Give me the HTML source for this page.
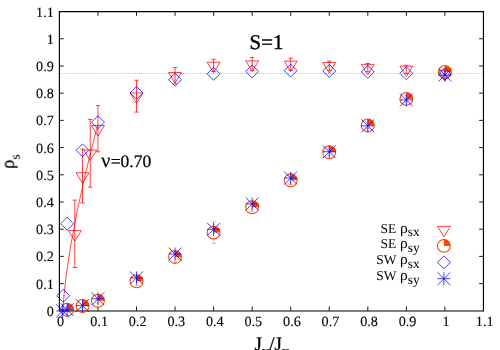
<!DOCTYPE html>
<html><head><meta charset="utf-8"><title>plot</title>
<style>
html,body{margin:0;padding:0;background:#fff;}
body{width:500px;height:350px;overflow:hidden;position:relative;font-family:"Liberation Serif",serif;}
</style></head><body>
<svg width="500" height="350" viewBox="0 0 500 350" style="position:absolute;left:0;top:0;display:block">
<rect x="0" y="0" width="500" height="350" fill="#ffffff"/>
<line x1="59.4" y1="73.39" x2="483.45" y2="73.39" stroke="#000" stroke-width="0.7" stroke-dasharray="0.7 1.4" opacity="0.55"/>
<g stroke="#000" stroke-width="1.15" fill="none" stroke-linecap="butt">
<path d="M59.4,311.53000000000003 L59.4,11.55 L483.45,11.55 L483.45,311.53000000000003 M58.85,310.98 L484.0,310.98"/>
</g>
<g stroke="#000" stroke-width="0.9" fill="none">
<line x1="97.95" y1="310.8" x2="97.95" y2="306.5"/>
<line x1="97.95" y1="11.55" x2="97.95" y2="15.850000000000001"/>
<line x1="59.4" y1="283.60" x2="63.699999999999996" y2="283.60"/>
<line x1="483.45" y1="283.60" x2="479.15" y2="283.60"/>
<line x1="136.50" y1="310.8" x2="136.50" y2="306.5"/>
<line x1="136.50" y1="11.55" x2="136.50" y2="15.850000000000001"/>
<line x1="59.4" y1="256.39" x2="63.699999999999996" y2="256.39"/>
<line x1="483.45" y1="256.39" x2="479.15" y2="256.39"/>
<line x1="175.05" y1="310.8" x2="175.05" y2="306.5"/>
<line x1="175.05" y1="11.55" x2="175.05" y2="15.850000000000001"/>
<line x1="59.4" y1="229.19" x2="63.699999999999996" y2="229.19"/>
<line x1="483.45" y1="229.19" x2="479.15" y2="229.19"/>
<line x1="213.60" y1="310.8" x2="213.60" y2="306.5"/>
<line x1="213.60" y1="11.55" x2="213.60" y2="15.850000000000001"/>
<line x1="59.4" y1="201.98" x2="63.699999999999996" y2="201.98"/>
<line x1="483.45" y1="201.98" x2="479.15" y2="201.98"/>
<line x1="252.15" y1="310.8" x2="252.15" y2="306.5"/>
<line x1="252.15" y1="11.55" x2="252.15" y2="15.850000000000001"/>
<line x1="59.4" y1="174.78" x2="63.699999999999996" y2="174.78"/>
<line x1="483.45" y1="174.78" x2="479.15" y2="174.78"/>
<line x1="290.70" y1="310.8" x2="290.70" y2="306.5"/>
<line x1="290.70" y1="11.55" x2="290.70" y2="15.850000000000001"/>
<line x1="59.4" y1="147.57" x2="63.699999999999996" y2="147.57"/>
<line x1="483.45" y1="147.57" x2="479.15" y2="147.57"/>
<line x1="329.25" y1="310.8" x2="329.25" y2="306.5"/>
<line x1="329.25" y1="11.55" x2="329.25" y2="15.850000000000001"/>
<line x1="59.4" y1="120.37" x2="63.699999999999996" y2="120.37"/>
<line x1="483.45" y1="120.37" x2="479.15" y2="120.37"/>
<line x1="367.80" y1="310.8" x2="367.80" y2="306.5"/>
<line x1="367.80" y1="11.55" x2="367.80" y2="15.850000000000001"/>
<line x1="59.4" y1="93.16" x2="63.699999999999996" y2="93.16"/>
<line x1="483.45" y1="93.16" x2="479.15" y2="93.16"/>
<line x1="406.35" y1="310.8" x2="406.35" y2="306.5"/>
<line x1="406.35" y1="11.55" x2="406.35" y2="15.850000000000001"/>
<line x1="59.4" y1="65.96" x2="63.699999999999996" y2="65.96"/>
<line x1="483.45" y1="65.96" x2="479.15" y2="65.96"/>
<line x1="444.90" y1="310.8" x2="444.90" y2="306.5"/>
<line x1="444.90" y1="11.55" x2="444.90" y2="15.850000000000001"/>
<line x1="59.4" y1="38.75" x2="63.699999999999996" y2="38.75"/>
<line x1="483.45" y1="38.75" x2="479.15" y2="38.75"/>
</g>
<g style="will-change:transform;text-rendering:geometricPrecision">
<g font-family="Liberation Serif, serif" font-size="14.2" fill="#000" stroke="#000" stroke-width="0.12">
<text x="53.80" y="315.80" text-anchor="end">0</text>
<text x="60.60" y="326" text-anchor="middle">0</text>
<text x="53.80" y="288.60" text-anchor="end">0.1</text>
<text x="99.15" y="326" text-anchor="middle">0.1</text>
<text x="53.80" y="261.39" text-anchor="end">0.2</text>
<text x="137.70" y="326" text-anchor="middle">0.2</text>
<text x="53.80" y="234.19" text-anchor="end">0.3</text>
<text x="176.25" y="326" text-anchor="middle">0.3</text>
<text x="53.80" y="206.98" text-anchor="end">0.4</text>
<text x="214.80" y="326" text-anchor="middle">0.4</text>
<text x="53.80" y="179.78" text-anchor="end">0.5</text>
<text x="253.35" y="326" text-anchor="middle">0.5</text>
<text x="53.80" y="152.57" text-anchor="end">0.6</text>
<text x="291.90" y="326" text-anchor="middle">0.6</text>
<text x="53.80" y="125.37" text-anchor="end">0.7</text>
<text x="330.45" y="326" text-anchor="middle">0.7</text>
<text x="53.80" y="98.16" text-anchor="end">0.8</text>
<text x="369.00" y="326" text-anchor="middle">0.8</text>
<text x="53.80" y="70.96" text-anchor="end">0.9</text>
<text x="407.55" y="326" text-anchor="middle">0.9</text>
<text x="53.80" y="43.75" text-anchor="end">1</text>
<text x="446.10" y="326" text-anchor="middle">1</text>
<text x="53.80" y="16.55" text-anchor="end">1.1</text>
<text x="484.65" y="326" text-anchor="middle">1.1</text>
</g>
</g>
<g>
<path d="M74.82,267.54 L74.82,200.08 M72.62,267.54 L77.02,267.54 M72.62,200.08 L77.02,200.08" fill="none" stroke="#ff0000" stroke-width="0.75"/>
<path d="M74.82,241.04 L68.37,230.59 L81.27,230.59 Z" fill="none" stroke="#ff0000" stroke-width="0.75" stroke-linejoin="miter"/><circle cx="74.82" cy="233.81" r="0.3" fill="#ff0000"/>
<path d="M82.53,202.91 L82.53,149.04 M80.33,202.91 L84.73,202.91 M80.33,149.04 L84.73,149.04" fill="none" stroke="#ff0000" stroke-width="0.75"/>
<path d="M82.53,183.20 L76.08,172.75 L88.98,172.75 Z" fill="none" stroke="#ff0000" stroke-width="0.75" stroke-linejoin="miter"/><circle cx="82.53" cy="175.97" r="0.3" fill="#ff0000"/>
<path d="M90.24,187.16 L90.24,119.42 M88.04,187.16 L92.44,187.16 M88.04,119.42 L92.44,119.42" fill="none" stroke="#ff0000" stroke-width="0.75"/>
<path d="M90.24,160.51 L83.79,150.06 L96.69,150.06 Z" fill="none" stroke="#ff0000" stroke-width="0.75" stroke-linejoin="miter"/><circle cx="90.24" cy="153.29" r="0.3" fill="#ff0000"/>
<path d="M97.95,151.84 L97.95,105.60 M95.75,151.84 L100.15,151.84 M95.75,105.60 L100.15,105.60" fill="none" stroke="#ff0000" stroke-width="0.75"/>
<path d="M97.95,135.94 L91.50,125.49 L104.40,125.49 Z" fill="none" stroke="#ff0000" stroke-width="0.75" stroke-linejoin="miter"/><circle cx="97.95" cy="128.72" r="0.3" fill="#ff0000"/>
<path d="M136.50,112.07 L136.50,80.24 M134.30,112.07 L138.70,112.07 M134.30,80.24 L138.70,80.24" fill="none" stroke="#ff0000" stroke-width="0.75"/>
<path d="M136.50,103.38 L130.05,92.93 L142.95,92.93 Z" fill="none" stroke="#ff0000" stroke-width="0.75" stroke-linejoin="miter"/><circle cx="136.50" cy="96.16" r="0.3" fill="#ff0000"/>
<path d="M175.05,83.91 L175.05,67.59 M172.85,83.91 L177.25,83.91 M172.85,67.59 L177.25,67.59" fill="none" stroke="#ff0000" stroke-width="0.75"/>
<path d="M175.05,82.98 L168.60,72.53 L181.50,72.53 Z" fill="none" stroke="#ff0000" stroke-width="0.75" stroke-linejoin="miter"/><circle cx="175.05" cy="75.75" r="0.3" fill="#ff0000"/>
<path d="M213.60,71.54 L213.60,59.29 M211.40,71.54 L215.80,71.54 M211.40,59.29 L215.80,59.29" fill="none" stroke="#ff0000" stroke-width="0.75"/>
<path d="M213.60,72.64 L207.15,62.19 L220.05,62.19 Z" fill="none" stroke="#ff0000" stroke-width="0.75" stroke-linejoin="miter"/><circle cx="213.60" cy="65.42" r="0.3" fill="#ff0000"/>
<path d="M252.15,70.58 L252.15,57.53 M249.95,70.58 L254.35,70.58 M249.95,57.53 L254.35,57.53" fill="none" stroke="#ff0000" stroke-width="0.75"/>
<path d="M252.15,71.28 L245.70,60.83 L258.60,60.83 Z" fill="none" stroke="#ff0000" stroke-width="0.75" stroke-linejoin="miter"/><circle cx="252.15" cy="64.05" r="0.3" fill="#ff0000"/>
<path d="M290.70,70.31 L290.70,58.34 M288.50,70.31 L292.90,70.31 M288.50,58.34 L292.90,58.34" fill="none" stroke="#ff0000" stroke-width="0.75"/>
<path d="M290.70,71.55 L284.25,61.10 L297.15,61.10 Z" fill="none" stroke="#ff0000" stroke-width="0.75" stroke-linejoin="miter"/><circle cx="290.70" cy="64.33" r="0.3" fill="#ff0000"/>
<path d="M329.25,70.39 L329.25,61.14 M327.05,70.39 L331.45,70.39 M327.05,61.14 L331.45,61.14" fill="none" stroke="#ff0000" stroke-width="0.75"/>
<path d="M329.25,72.99 L322.80,62.54 L335.70,62.54 Z" fill="none" stroke="#ff0000" stroke-width="0.75" stroke-linejoin="miter"/><circle cx="329.25" cy="65.77" r="0.3" fill="#ff0000"/>
<path d="M367.80,71.67 L367.80,63.51 M365.60,71.67 L370.00,71.67 M365.60,63.51 L370.00,63.51" fill="none" stroke="#ff0000" stroke-width="0.75"/>
<path d="M367.80,74.82 L361.35,64.37 L374.25,64.37 Z" fill="none" stroke="#ff0000" stroke-width="0.75" stroke-linejoin="miter"/><circle cx="367.80" cy="67.59" r="0.3" fill="#ff0000"/>
<path d="M406.35,73.44 L406.35,65.28 M404.15,73.44 L408.55,73.44 M404.15,65.28 L408.55,65.28" fill="none" stroke="#ff0000" stroke-width="0.75"/>
<path d="M406.35,76.58 L399.90,66.13 L412.80,66.13 Z" fill="none" stroke="#ff0000" stroke-width="0.75" stroke-linejoin="miter"/><circle cx="406.35" cy="69.36" r="0.3" fill="#ff0000"/>
<path d="M444.90,75.54 L444.90,71.18 M442.70,75.54 L447.10,75.54 M442.70,71.18 L447.10,71.18" fill="none" stroke="#ff0000" stroke-width="0.75"/>
<path d="M444.90,80.58 L438.45,70.13 L451.35,70.13 Z" fill="none" stroke="#ff0000" stroke-width="0.75" stroke-linejoin="miter"/><circle cx="444.90" cy="73.36" r="0.3" fill="#ff0000"/>
</g>
<polyline points="63.02,310.80 63.61,300.19 64.19,293.56 64.77,287.90 65.35,282.80 65.93,278.06 66.52,273.61 67.10,269.37 67.68,265.31 68.26,261.40 68.84,257.62 69.43,253.95 70.01,250.38 70.59,246.90 71.17,243.49 71.76,240.16 72.34,236.90 72.92,233.69 73.50,230.55 74.08,227.45 74.67,224.40 75.25,221.40 75.83,218.44 76.41,215.52 76.99,212.64 77.58,209.80 78.16,206.99 78.74,204.21 79.32,201.46 79.90,198.74 80.49,196.05 81.07,193.38 81.65,190.75 82.23,188.13 82.82,185.54 83.40,182.97 83.98,180.43 84.56,177.90 85.14,175.40 85.73,172.91 86.31,170.45 86.89,168.00 87.47,165.57 88.05,163.16 88.64,160.77 89.22,158.39 89.80,156.02 90.38,153.68 90.96,151.34 91.55,149.03 92.13,146.72 92.71,144.43 93.29,142.15 93.88,139.89 94.46,137.64 95.04,135.40 95.62,133.17 96.20,130.96 96.79,128.76 97.37,126.57 97.95,124.39" fill="none" stroke="#ff0000" stroke-width="0.75"/>
<g>
<path d="M67.11,310.61 L67.11,308.98 M64.91,310.61 L69.31,310.61 M64.91,308.98 L69.31,308.98" fill="none" stroke="#ff4500" stroke-width="0.4"/>
<path d="M67.11,309.79 L73.56,309.79 A6.45,6.45 0 0 0 67.11,303.34 Z" fill="#ff4500" stroke="none"/><circle cx="67.11" cy="309.79" r="6.45" fill="none" stroke="#ff4500" stroke-width="1.05"/>
<path d="M82.53,307.62 L82.53,304.35 M80.33,307.62 L84.73,307.62 M80.33,304.35 L84.73,304.35" fill="none" stroke="#ff4500" stroke-width="0.4"/>
<path d="M82.53,305.98 L88.98,305.98 A6.45,6.45 0 0 0 82.53,299.53 Z" fill="#ff4500" stroke="none"/><circle cx="82.53" cy="305.98" r="6.45" fill="none" stroke="#ff4500" stroke-width="1.05"/>
<path d="M97.95,302.97 L97.95,298.61 M95.75,302.97 L100.15,302.97 M95.75,298.61 L100.15,298.61" fill="none" stroke="#ff4500" stroke-width="0.4"/>
<path d="M97.95,300.79 L104.40,300.79 A6.45,6.45 0 0 0 97.95,294.34 Z" fill="#ff4500" stroke="none"/><circle cx="97.95" cy="300.79" r="6.45" fill="none" stroke="#ff4500" stroke-width="1.05"/>
<path d="M136.50,285.64 L136.50,276.93 M134.30,285.64 L138.70,285.64 M134.30,276.93 L138.70,276.93" fill="none" stroke="#ff4500" stroke-width="0.4"/>
<path d="M136.50,281.28 L142.95,281.28 A6.45,6.45 0 0 0 136.50,274.83 Z" fill="#ff4500" stroke="none"/><circle cx="136.50" cy="281.28" r="6.45" fill="none" stroke="#ff4500" stroke-width="1.05"/>
<path d="M175.05,262.38 L175.05,251.49 M172.85,262.38 L177.25,262.38 M172.85,251.49 L177.25,251.49" fill="none" stroke="#ff4500" stroke-width="0.4"/>
<path d="M175.05,256.94 L181.50,256.94 A6.45,6.45 0 0 0 175.05,250.49 Z" fill="#ff4500" stroke="none"/><circle cx="175.05" cy="256.94" r="6.45" fill="none" stroke="#ff4500" stroke-width="1.05"/>
<path d="M213.60,243.50 L213.60,221.73 M211.40,243.50 L215.80,243.50 M211.40,221.73 L215.80,221.73" fill="none" stroke="#ff4500" stroke-width="0.4"/>
<path d="M213.60,232.61 L220.05,232.61 A6.45,6.45 0 0 0 213.60,226.16 Z" fill="#ff4500" stroke="none"/><circle cx="213.60" cy="232.61" r="6.45" fill="none" stroke="#ff4500" stroke-width="1.05"/>
<path d="M252.15,211.29 L252.15,203.12 M249.95,211.29 L254.35,211.29 M249.95,203.12 L254.35,203.12" fill="none" stroke="#ff4500" stroke-width="0.4"/>
<path d="M252.15,207.21 L258.60,207.21 A6.45,6.45 0 0 0 252.15,200.76 Z" fill="#ff4500" stroke="none"/><circle cx="252.15" cy="207.21" r="6.45" fill="none" stroke="#ff4500" stroke-width="1.05"/>
<path d="M290.70,184.41 L290.70,176.25 M288.50,184.41 L292.90,184.41 M288.50,176.25 L292.90,176.25" fill="none" stroke="#ff4500" stroke-width="0.4"/>
<path d="M290.70,180.33 L297.15,180.33 A6.45,6.45 0 0 0 290.70,173.88 Z" fill="#ff4500" stroke="none"/><circle cx="290.70" cy="180.33" r="6.45" fill="none" stroke="#ff4500" stroke-width="1.05"/>
<path d="M329.25,155.46 L329.25,148.93 M327.05,155.46 L331.45,155.46 M327.05,148.93 L331.45,148.93" fill="none" stroke="#ff4500" stroke-width="0.4"/>
<path d="M329.25,152.20 L335.70,152.20 A6.45,6.45 0 0 0 329.25,145.75 Z" fill="#ff4500" stroke="none"/><circle cx="329.25" cy="152.20" r="6.45" fill="none" stroke="#ff4500" stroke-width="1.05"/>
<path d="M367.80,128.69 L367.80,122.16 M365.60,128.69 L370.00,128.69 M365.60,122.16 L370.00,122.16" fill="none" stroke="#ff4500" stroke-width="0.4"/>
<path d="M367.80,125.43 L374.25,125.43 A6.45,6.45 0 0 0 367.80,118.98 Z" fill="#ff4500" stroke="none"/><circle cx="367.80" cy="125.43" r="6.45" fill="none" stroke="#ff4500" stroke-width="1.05"/>
<path d="M406.35,102.14 L406.35,95.61 M404.15,102.14 L408.55,102.14 M404.15,95.61 L408.55,95.61" fill="none" stroke="#ff4500" stroke-width="0.4"/>
<path d="M406.35,98.88 L412.80,98.88 A6.45,6.45 0 0 0 406.35,92.43 Z" fill="#ff4500" stroke="none"/><circle cx="406.35" cy="98.88" r="6.45" fill="none" stroke="#ff4500" stroke-width="1.05"/>
<path d="M444.90,73.30 L444.90,70.58 M442.70,73.30 L447.10,73.30 M442.70,70.58 L447.10,70.58" fill="none" stroke="#ff4500" stroke-width="0.4"/>
<path d="M444.90,71.94 L451.35,71.94 A6.45,6.45 0 0 0 444.90,65.49 Z" fill="#ff4500" stroke="none"/><circle cx="444.90" cy="71.94" r="6.45" fill="none" stroke="#ff4500" stroke-width="1.05"/>
</g>
<g>
<path d="M63.25,289.33 L56.80,295.78 L63.25,302.23 L69.70,295.78 Z" fill="none" stroke="#0000ff" stroke-width="0.75"/><circle cx="63.25" cy="295.78" r="0.3" fill="#0000ff"/>
<path d="M67.11,217.30 L60.66,223.75 L67.11,230.20 L73.56,223.75 Z" fill="none" stroke="#0000ff" stroke-width="0.75"/><circle cx="67.11" cy="223.75" r="0.3" fill="#0000ff"/>
<path d="M82.53,143.84 L76.08,150.29 L82.53,156.74 L88.98,150.29 Z" fill="none" stroke="#0000ff" stroke-width="0.75"/><circle cx="82.53" cy="150.29" r="0.3" fill="#0000ff"/>
<path d="M97.95,115.82 L91.50,122.27 L97.95,128.72 L104.40,122.27 Z" fill="none" stroke="#0000ff" stroke-width="0.75"/><circle cx="97.95" cy="122.27" r="0.3" fill="#0000ff"/>
<path d="M136.50,86.44 L130.05,92.89 L136.50,99.34 L142.95,92.89 Z" fill="none" stroke="#0000ff" stroke-width="0.75"/><circle cx="136.50" cy="92.89" r="0.3" fill="#0000ff"/>
<path d="M175.05,73.25 L168.60,79.70 L175.05,86.15 L181.50,79.70 Z" fill="none" stroke="#0000ff" stroke-width="0.75"/><circle cx="175.05" cy="79.70" r="0.3" fill="#0000ff"/>
<path d="M213.60,67.40 L207.15,73.85 L213.60,80.30 L220.05,73.85 Z" fill="none" stroke="#0000ff" stroke-width="0.75"/><circle cx="213.60" cy="73.85" r="0.3" fill="#0000ff"/>
<path d="M252.15,65.03 L245.70,71.48 L252.15,77.93 L258.60,71.48 Z" fill="none" stroke="#0000ff" stroke-width="0.75"/><circle cx="252.15" cy="71.48" r="0.3" fill="#0000ff"/>
<path d="M290.70,64.13 L284.25,70.58 L290.70,77.03 L297.15,70.58 Z" fill="none" stroke="#0000ff" stroke-width="0.75"/><circle cx="290.70" cy="70.58" r="0.3" fill="#0000ff"/>
<path d="M329.25,64.51 L322.80,70.96 L329.25,77.41 L335.70,70.96 Z" fill="none" stroke="#0000ff" stroke-width="0.75"/><circle cx="329.25" cy="70.96" r="0.3" fill="#0000ff"/>
<path d="M367.80,65.49 L361.35,71.94 L367.80,78.39 L374.25,71.94 Z" fill="none" stroke="#0000ff" stroke-width="0.75"/><circle cx="367.80" cy="71.94" r="0.3" fill="#0000ff"/>
<path d="M406.35,66.85 L399.90,73.30 L406.35,79.75 L412.80,73.30 Z" fill="none" stroke="#0000ff" stroke-width="0.75"/><circle cx="406.35" cy="73.30" r="0.3" fill="#0000ff"/>
<path d="M444.90,67.67 L438.45,74.12 L444.90,80.57 L451.35,74.12 Z" fill="none" stroke="#0000ff" stroke-width="0.75"/><circle cx="444.90" cy="74.12" r="0.3" fill="#0000ff"/>
</g>
<g>
<path d="M56.23,310.94 L69.13,310.94 M62.68,304.49 L62.68,317.39 M56.23,304.49 L69.13,317.39 M56.23,317.39 L69.13,304.49" fill="none" stroke="#0000ff" stroke-width="0.75"/>
<path d="M60.66,309.71 L73.56,309.71 M67.11,303.26 L67.11,316.16 M60.66,303.26 L73.56,316.16 M60.66,316.16 L73.56,303.26" fill="none" stroke="#0000ff" stroke-width="0.75"/>
<path d="M76.08,305.69 L88.98,305.69 M82.53,299.24 L82.53,312.14 M76.08,299.24 L88.98,312.14 M76.08,312.14 L88.98,299.24" fill="none" stroke="#0000ff" stroke-width="0.75"/>
<path d="M91.50,298.78 L104.40,298.78 M97.95,292.33 L97.95,305.23 M91.50,292.33 L104.40,305.23 M91.50,305.23 L104.40,292.33" fill="none" stroke="#0000ff" stroke-width="0.75"/>
<path d="M130.05,277.88 L142.95,277.88 M136.50,271.43 L136.50,284.33 M130.05,271.43 L142.95,284.33 M130.05,284.33 L142.95,271.43" fill="none" stroke="#0000ff" stroke-width="0.75"/>
<path d="M168.60,254.02 L181.50,254.02 M175.05,247.57 L175.05,260.47 M168.60,247.57 L181.50,260.47 M168.60,260.47 L181.50,247.57" fill="none" stroke="#0000ff" stroke-width="0.75"/>
<path d="M207.15,229.32 L220.05,229.32 M213.60,222.87 L213.60,235.77 M207.15,222.87 L220.05,235.77 M207.15,235.77 L220.05,222.87" fill="none" stroke="#0000ff" stroke-width="0.75"/>
<path d="M245.70,203.89 L258.60,203.89 M252.15,197.44 L252.15,210.34 M245.70,197.44 L258.60,210.34 M245.70,210.34 L258.60,197.44" fill="none" stroke="#0000ff" stroke-width="0.75"/>
<path d="M284.25,178.07 L297.15,178.07 M290.70,171.62 L290.70,184.52 M284.25,171.62 L297.15,184.52 M284.25,184.52 L297.15,171.62" fill="none" stroke="#0000ff" stroke-width="0.75"/>
<path d="M322.80,151.76 L335.70,151.76 M329.25,145.31 L329.25,158.21 M322.80,145.31 L335.70,158.21 M322.80,158.21 L335.70,145.31" fill="none" stroke="#0000ff" stroke-width="0.75"/>
<path d="M361.35,125.81 L374.25,125.81 M367.80,119.36 L367.80,132.26 M361.35,119.36 L374.25,132.26 M361.35,132.26 L374.25,119.36" fill="none" stroke="#0000ff" stroke-width="0.75"/>
<path d="M399.90,99.96 L412.80,99.96 M406.35,93.51 L406.35,106.41 M399.90,93.51 L412.80,106.41 M399.90,106.41 L412.80,93.51" fill="none" stroke="#0000ff" stroke-width="0.75"/>
<path d="M438.45,75.07 L451.35,75.07 M444.90,68.62 L444.90,81.52 M438.45,68.62 L451.35,81.52 M438.45,81.52 L451.35,68.62" fill="none" stroke="#0000ff" stroke-width="0.75"/>
</g>
<path d="M443.90,236.82 L437.45,226.38 L450.35,226.38 Z" fill="none" stroke="#ff0000" stroke-width="0.75" stroke-linejoin="miter"/><circle cx="443.90" cy="229.60" r="0.3" fill="#ff0000"/>
<path d="M443.90,245.90 L450.35,245.90 A6.45,6.45 0 0 0 443.90,239.45 Z" fill="#ff4500" stroke="none"/><circle cx="443.90" cy="245.90" r="6.45" fill="none" stroke="#ff4500" stroke-width="1.05"/>
<path d="M443.90,255.85 L437.45,262.30 L443.90,268.75 L450.35,262.30 Z" fill="none" stroke="#0000ff" stroke-width="0.75"/><circle cx="443.90" cy="262.30" r="0.3" fill="#0000ff"/>
<path d="M437.45,278.70 L450.35,278.70 M443.90,272.25 L443.90,285.15 M437.45,272.25 L450.35,285.15 M437.45,285.15 L450.35,272.25" fill="none" stroke="#0000ff" stroke-width="0.75"/>
<g style="will-change:transform;text-rendering:geometricPrecision">
<g font-family="Liberation Serif, serif" font-size="14.2" fill="#000" text-anchor="end">
<text x="419.6" y="232.60"><tspan font-size="13.5">SE</tspan> <tspan font-size="15.5">ρ</tspan><tspan font-size="13.4" dy="3.4">sx</tspan></text>
<text x="419.6" y="248.20"><tspan font-size="13.5">SE</tspan> <tspan font-size="15.5">ρ</tspan><tspan font-size="13.4" dy="3.4">sy</tspan></text>
<text x="419.6" y="264.30"><tspan font-size="13.5">SW</tspan> <tspan font-size="15.5">ρ</tspan><tspan font-size="13.4" dy="3.4">sx</tspan></text>
<text x="419.6" y="280.40"><tspan font-size="13.5">SW</tspan> <tspan font-size="15.5">ρ</tspan><tspan font-size="13.4" dy="3.4">sy</tspan></text>
</g>
<text x="249.6" y="48.7" font-family="Liberation Serif, serif" font-size="20.8" fill="#000" stroke="#000" stroke-width="0.4">S=1</text>
<text x="101.2" y="167" font-family="Liberation Serif, serif" font-size="17.5" fill="#000" stroke="#000" stroke-width="0.25"><tspan font-size="20">ν</tspan><tspan dx="0.5">=0.70</tspan></text>
<text x="254.5" y="350.4" font-family="Liberation Serif, serif" font-size="19" fill="#000" stroke="#000" stroke-width="0.3">J<tspan font-size="14.6" dy="5.6">y</tspan><tspan dy="-5.6">/J</tspan><tspan font-size="14.6" dy="5.6">x</tspan></text>
<text transform="translate(13.7,168.9) rotate(-90)" font-family="Liberation Serif, serif" font-size="18.6" fill="#000" stroke="#000" stroke-width="0.2">ρ<tspan font-size="14" dy="6.2" stroke="none">s</tspan></text>
</g>
</svg>
</body></html>
